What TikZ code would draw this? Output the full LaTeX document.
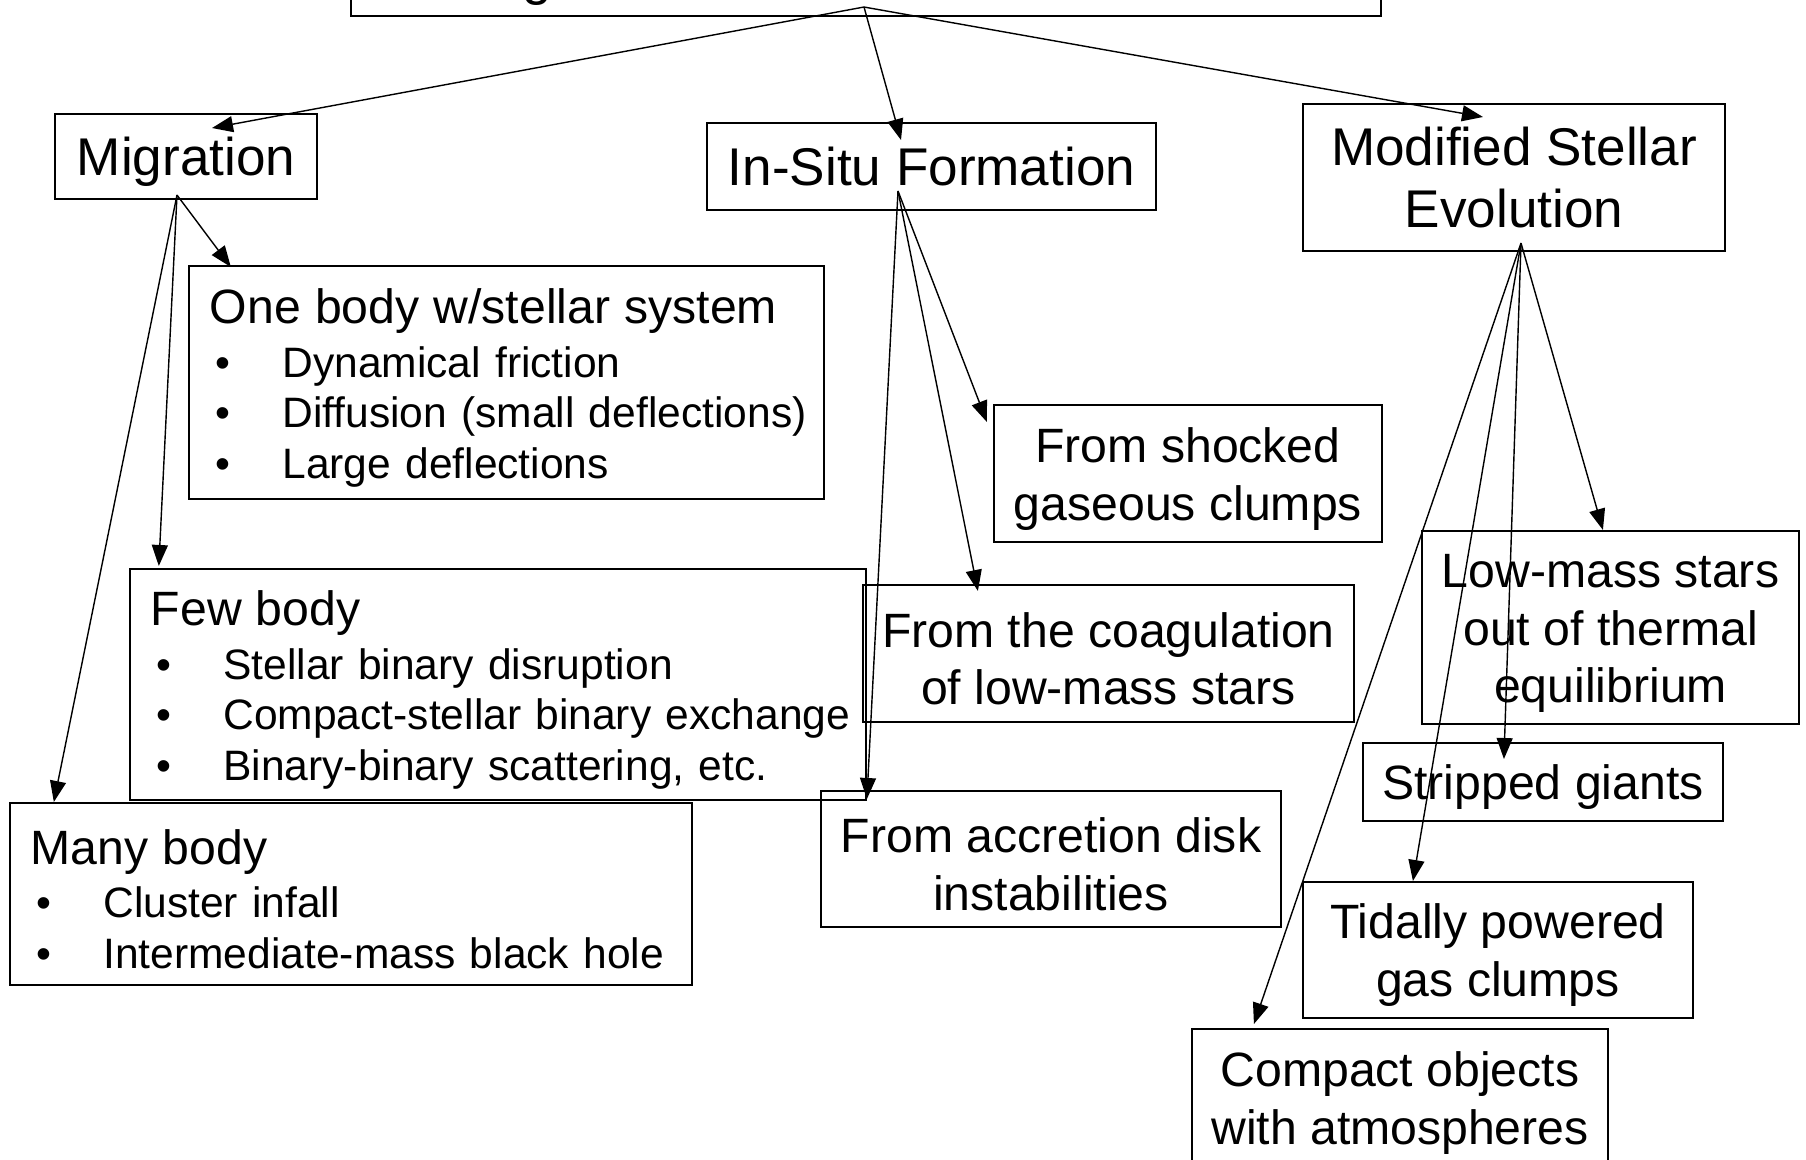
\documentclass[tikz,border=0pt]{standalone}
\usepackage{fontspec}
\setmainfont{Liberation Sans}
\usepackage{tikz}
\usetikzlibrary{arrows.meta}
\newcommand{\bigfnt}{\fontsize{15.1}{17.9}\selectfont}
\newcommand{\midfnt}{\fontsize{13.7}{16.4}\selectfont}
\newcommand{\itemfnt}{\fontsize{12.1}{14.4}\selectfont}
\newcommand{\hdr}[1]{\mbox{\midfnt #1}}
\newcommand{\blt}[1]{\mbox{\hspace*{1.7pt}\makebox[18.95pt][l]{\textbullet}#1}}
\tikzset{
  catbox/.style  = {draw, line width=0.55pt, inner sep=0pt, align=center, font=\bigfnt},
  leafbox/.style = {draw, line width=0.55pt, inner sep=0pt, align=flush center, font=\midfnt,
                    execute at begin node={\rule{0pt}{12.9pt}}},
  listbox/.style = {draw, line width=0.55pt, inner xsep=0.21cm, inner ysep=0pt,
                    align=left, font=\itemfnt, execute at begin node={\rule{0pt}{12.9pt}}},
  catar/.style   = {-{Triangle[length=2.1mm,width=1.6mm]}, line width=0.4pt}
}

\begin{document}
\begin{tikzpicture}[x=0.01cm,y=-0.01cm]
  \useasboundingbox (0,0) rectangle (1806,1159);
  % top box, cut by the page edge
  \node[catbox, anchor=south, minimum width=10.30cm, minimum height=1.5cm] (root) at (866,17) {};
  \node[font=\bigfnt, anchor=base, inner sep=0pt] (rootg) at (537,-6) {g};
  % first level
  \node[catbox, minimum width=2.62cm, minimum height=0.85cm] (mig)    at (186,156.5)  {\rule{0pt}{14pt}Migration};
  \node[catbox, minimum width=4.49cm, minimum height=0.87cm] (insitu) at (931.5,166.5) {In-Situ Formation};
  \node[catbox, minimum width=4.22cm, minimum height=1.47cm] (mse)    at (1514,177.5) {Modified Stellar\\Evolution};
  % migration lists
  \node[listbox, text width=5.93cm, minimum height=2.33cm] (one) at (506.5,382.5)
       {\hdr{One body w/stellar system}\\[1pt]
        \blt{Dynamical friction}\\
        \blt{Diffusion (small deflections)}\\
        \blt{Large deflections}};
  \node[listbox, text width=6.94cm, minimum height=2.31cm] (few) at (498,684.5)
       {\hdr{Few body}\\[1pt]
        \blt{Stellar binary disruption}\\
        \blt{Compact-stellar binary exchange}\\
        \blt{Binary-binary scattering, etc.}};
  \node[listbox, text width=6.40cm, minimum height=1.82cm] (many) at (351,894)
       {\hdr{Many body}\\[0.5pt]
        \blt{Cluster infall}\\
        \blt{Intermediate-mass black hole}};
  % in-situ formation
  \node[leafbox, text width=3.88cm, minimum height=1.37cm] (shock) at (1188,473.5) {From shocked\\gaseous clumps};
  \node[leafbox, text width=4.91cm, minimum height=1.37cm] (coag)  at (1108.5,653.5) {From the coagulation\\of low-mass stars};
  \node[leafbox, text width=4.60cm, minimum height=1.36cm] (accr)  at (1051,859) {From accretion disk\\instabilities};
  % modified stellar evolution
  \node[leafbox, text width=3.77cm, minimum height=1.93cm] (lowm)  at (1610.5,627.5) {Low-mass stars\\out of thermal\\equilibrium};
  \node[leafbox, text width=3.60cm, minimum height=0.78cm] (strip) at (1543,782) {Stripped giants};
  \node[leafbox, text width=3.90cm, minimum height=1.36cm] (tidal) at (1498,950) {Tidally powered\\gas clumps};
  \node[leafbox, text width=4.16cm, minimum height=1.37cm] (comp)  at (1400,1097.5) {Compact objects\\with atmospheres};
  % connectors
  \coordinate (roothub) at ([shift={(-2,-10)}]root.south);
  \foreach \t/\dx/\dy in {mig/26/15, insitu/-30.5/18, mse/-31/14}
    \draw[catar] (roothub) -- ([shift={(\dx,\dy)}]\t.north);
  \coordinate (mighub) at ([shift={(-9,-5)}]mig.south);
  \foreach \t/\dx/\dy in {one/43/2, few/30/-2, many/45/0}
    \draw[catar] (mighub) -- ([shift={(\dx,\dy)}]\t.north west);
  \coordinate (insituhub) at ([shift={(-33.5,-20)}]insitu.south);
  \foreach \t/\dx/\dy in {shock/-6/18, coag/116/7, accr/47/9}
    \draw[catar] (insituhub) -- ([shift={(\dx,\dy)}]\t.north west);
  \coordinate (msehub) at ([shift={(7,-9)}]mse.south);
  \foreach \t/\dx/\dy in {lowm/182/0, strip/142/17, tidal/111/0, comp/63/-4}
    \draw[catar] (msehub) -- ([shift={(\dx,\dy)}]\t.north west);
\end{tikzpicture}
\end{document}
